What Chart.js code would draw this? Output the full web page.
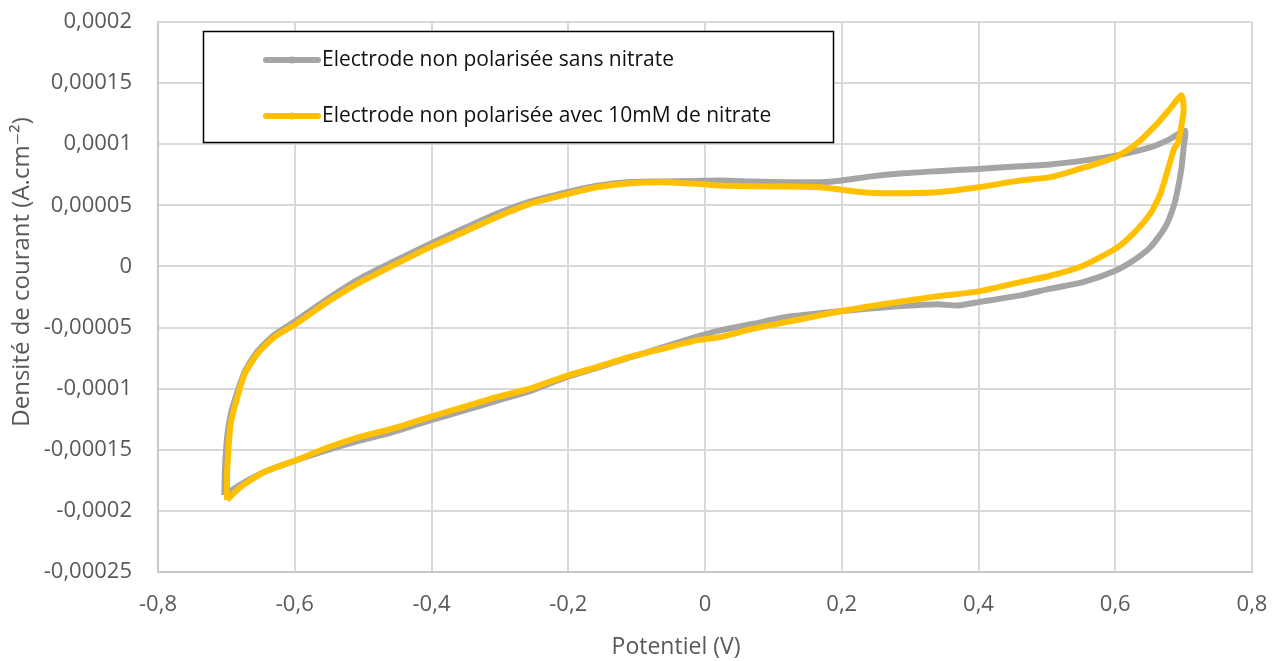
<!DOCTYPE html>
<html>
<head>
<meta charset="utf-8">
<script src="https://cdn.jsdelivr.net/npm/chart.js@4.4.1/dist/chart.umd.min.js"></script>
<style>
  html, body { margin: 0; padding: 0; background: #fff; }
  #wrap { width: 1282px; height: 661px; position: relative; }
</style>
</head>
<body>
<div id="wrap"><canvas id="c" width="1282" height="661"></canvas></div>
<script>
// ---- Data ----
const seriesNames = [
  'Electrode non polarisée sans nitrate',
  'Electrode non polarisée avec 10mM de nitrate'
];

// Series 1 : sans nitrate (gray) — closed voltammogram loop
const sansX = [
  -0.703, -0.702, -0.699, -0.694, -0.687, -0.673, -0.654, -0.630, -0.600, -0.556,
  -0.508, -0.459, -0.400, -0.353, -0.305, -0.256, -0.200, -0.158, -0.110, -0.061,
  -0.012, 0.022, 0.071, 0.119, 0.168, 0.200, 0.240, 0.290, 0.339, 0.400,
  0.461, 0.505, 0.553, 0.600, 0.651, 0.680, 0.702,
  0.700, 0.697, 0.692, 0.685, 0.673, 0.651, 0.626, 0.600, 0.553, 0.505,
  0.461, 0.400, 0.370, 0.339, 0.265, 0.200, 0.119, 0.071, 0.022, -0.012,
  -0.061, -0.110, -0.158, -0.200, -0.256, -0.305, -0.353, -0.402, -0.459, -0.508,
  -0.556, -0.600, -0.644, -0.678, -0.703
];
const sansY = [
  -0.000187, -0.000165, -0.000140, -0.000122, -0.000108, -0.000086, -0.000069, -0.000056, -0.000045, -0.000028,
  -0.000011, 0.000003, 0.000019, 0.000031, 0.000043, 0.000053, 0.000061, 0.000066, 0.000069, 0.0000695,
  0.000070, 0.0000703, 0.0000695, 0.0000689, 0.0000689, 0.0000703, 0.0000735, 0.0000762, 0.0000779, 0.0000798,
  0.000082, 0.0000835, 0.0000866, 0.0000906, 0.0000974, 0.0001042, 0.0001111,
  0.0000974, 0.0000812, 0.0000648, 0.0000485, 0.0000321, 0.0000155, 0.0000047, -0.0000035, -0.0000128, -0.0000182,
  -0.0000237, -0.0000292, -0.0000319, -0.000031, -0.0000333, -0.0000365, -0.0000414, -0.0000469, -0.0000523, -0.0000575,
  -0.000066, -0.0000745, -0.000083, -0.000090, -0.000102, -0.000110, -0.000118, -0.000126, -0.000136, -0.000143,
  -0.000151, -0.000159, -0.000168, -0.000178, -0.000187
];

// Series 2 : avec 10mM de nitrate (yellow)
const avecX = [
  -0.699, -0.699, -0.697, -0.694, -0.688, -0.673, -0.654, -0.630, -0.600, -0.556,
  -0.508, -0.459, -0.402, -0.353, -0.305, -0.256, -0.200, -0.158, -0.110, -0.061,
  -0.012, 0.022, 0.071, 0.119, 0.168, 0.200, 0.240, 0.290, 0.339, 0.400,
  0.461, 0.505, 0.553, 0.600, 0.631, 0.661, 0.680, 0.697,
  0.700, 0.692, 0.686, 0.678, 0.666, 0.651, 0.626, 0.600, 0.553, 0.505,
  0.461, 0.400, 0.339, 0.265, 0.200, 0.168, 0.119, 0.071, 0.022, -0.012,
  -0.061, -0.110, -0.158, -0.200, -0.256, -0.305, -0.353, -0.402, -0.459, -0.508,
  -0.556, -0.600, -0.644, -0.678, -0.699
];
const avecY = [
  -0.000191, -0.000170, -0.000150, -0.000130, -0.000115, -0.0000877, -0.0000711, -0.0000578, -0.0000477, -0.0000305,
  -0.0000141, 0.0, 0.0000158, 0.000028, 0.0000403, 0.0000512, 0.0000594, 0.0000648, 0.000068, 0.0000689,
  0.0000676, 0.0000662, 0.0000656, 0.0000654, 0.0000648, 0.0000627, 0.0000602, 0.0000599, 0.0000607, 0.0000648,
  0.0000703, 0.0000731, 0.0000807, 0.0000894, 0.0001003, 0.0001166, 0.0001289, 0.000140,
  0.0001275, 0.0001016, 0.0000962, 0.0000812, 0.0000594, 0.000043, 0.0000267, 0.0000144, 0.0000006, -0.0000076,
  -0.0000128, -0.0000204, -0.0000245, -0.0000305, -0.0000365, -0.000040, -0.0000455, -0.0000509, -0.0000578, -0.0000605,
  -0.0000672, -0.0000741, -0.0000823, -0.0000891, -0.0000999, -0.000107, -0.000115, -0.000123, -0.000133, -0.000140,
  -0.000149, -0.000159, -0.000168, -0.000180, -0.000191
];

// Axis ticks
const xTickValues = [-0.8, -0.6, -0.4, -0.2, 0, 0.2, 0.4, 0.6, 0.8];
const xTickLabels = ['-0,8', '-0,6', '-0,4', '-0,2', '0', '0,2', '0,4', '0,6', '0,8'];
const yTickValues = [-0.00025, -0.0002, -0.00015, -0.0001, -0.00005, 0, 0.00005, 0.0001, 0.00015, 0.0002];
const yTickLabels = ['-0,00025', '-0,0002', '-0,00015', '-0,0001', '-0,00005', '0', '0,00005', '0,0001', '0,00015', '0,0002'];

const xTitle = 'Potentiel (V)';
const yTitle = 'Densité de courant (A.cm⁻²)';

// ---- Build chart ----
const FONT = "'Open Sans', 'DejaVu Sans', sans-serif";
const GRAY = '#A5A5A5';
const YELLOW = '#FFC000';
const TEXT = '#595959';

const toPts = (xs, ys) => xs.map((x, i) => ({ x: x, y: ys[i] }));

const titlesAndLegend = {
  id: 'titlesAndLegend',
  afterDraw(chart) {
    const ctx = chart.ctx;
    ctx.save();
    // Axis titles
    ctx.fillStyle = TEXT;
    ctx.font = '23px ' + FONT;
    ctx.textAlign = 'center';
    ctx.textBaseline = 'middle';
    ctx.fillText(xTitle, 676, 647);
    ctx.save();
    ctx.translate(22, 272);
    ctx.rotate(-Math.PI / 2);
    ctx.font = '24px ' + FONT;
    ctx.fillText(yTitle, 0, 0);
    ctx.restore();

    // Legend box
    ctx.fillStyle = '#ffffff';
    ctx.fillRect(203, 31, 630, 111);
    ctx.strokeStyle = '#000000';
    ctx.lineWidth = 1.5;
    ctx.strokeRect(203.5, 31.5, 630, 111);
    const entries = [
      { color: GRAY, y: 60, text: seriesNames[0] },
      { color: YELLOW, y: 116, text: seriesNames[1] }
    ];
    entries.forEach(e => {
      ctx.strokeStyle = e.color;
      ctx.lineWidth = 6;
      ctx.lineCap = 'round';
      ctx.beginPath();
      ctx.moveTo(266, e.y);
      ctx.lineTo(318, e.y);
      ctx.stroke();
      ctx.fillStyle = e.color;
      ctx.beginPath();
      ctx.arc(292, e.y, 3.5, 0, Math.PI * 2);
      ctx.fill();
      ctx.fillStyle = '#111111';
      ctx.font = '21px ' + FONT;
      ctx.textAlign = 'left';
      ctx.textBaseline = 'middle';
      ctx.fillText(e.text, 322, e.y);
    });
    ctx.restore();
  }
};

new Chart(document.getElementById('c'), {
  type: 'scatter',
  data: {
    datasets: [
      {
        label: seriesNames[0],
        data: toPts(sansX, sansY),
        showLine: true,
        borderColor: GRAY,
        backgroundColor: GRAY,
        borderWidth: 6,
        pointRadius: 0,
        tension: 0.2,
        order: 2
      },
      {
        label: seriesNames[1],
        data: toPts(avecX, avecY),
        showLine: true,
        borderColor: YELLOW,
        backgroundColor: YELLOW,
        borderWidth: 6,
        pointRadius: 0,
        tension: 0.2,
        order: 1
      }
    ]
  },
  options: {
    responsive: false,
    animation: false,
    devicePixelRatio: 1,
    layout: { padding: { left: 0, right: 30, top: 22, bottom: 0 } },
    plugins: {
      legend: { display: false },
      tooltip: { enabled: false }
    },
    scales: {
      x: {
        type: 'linear',
        min: -0.8, max: 0.8,
        afterBuildTicks: s => { s.ticks = xTickValues.map(v => ({ value: v })); },
        afterFit: s => { s.height = 89; s.paddingLeft = 0; s.paddingRight = 0; },
        grid: { color: '#d9d9d9', lineWidth: 2, drawTicks: false },
        border: { color: '#c8c8c8', width: 2 },
        ticks: {
          color: TEXT,
          font: { family: FONT, size: 22 },
          padding: 20,
          maxRotation: 0,
          callback: (v, i) => xTickLabels[i]
        }
      },
      y: {
        type: 'linear',
        min: -0.00025, max: 0.0002,
        afterBuildTicks: s => { s.ticks = yTickValues.map(v => ({ value: v })); },
        afterFit: s => { s.width = 158; s.paddingTop = 0; s.paddingBottom = 0; },
        grid: { color: '#d9d9d9', lineWidth: 2, drawTicks: false },
        border: { color: '#c8c8c8', width: 2 },
        ticks: {
          color: TEXT,
          font: { family: FONT, size: 22 },
          padding: 26,
          callback: (v, i) => yTickLabels[i]
        }
      }
    }
  },
  plugins: [titlesAndLegend]
});
</script>
</body>
</html>
